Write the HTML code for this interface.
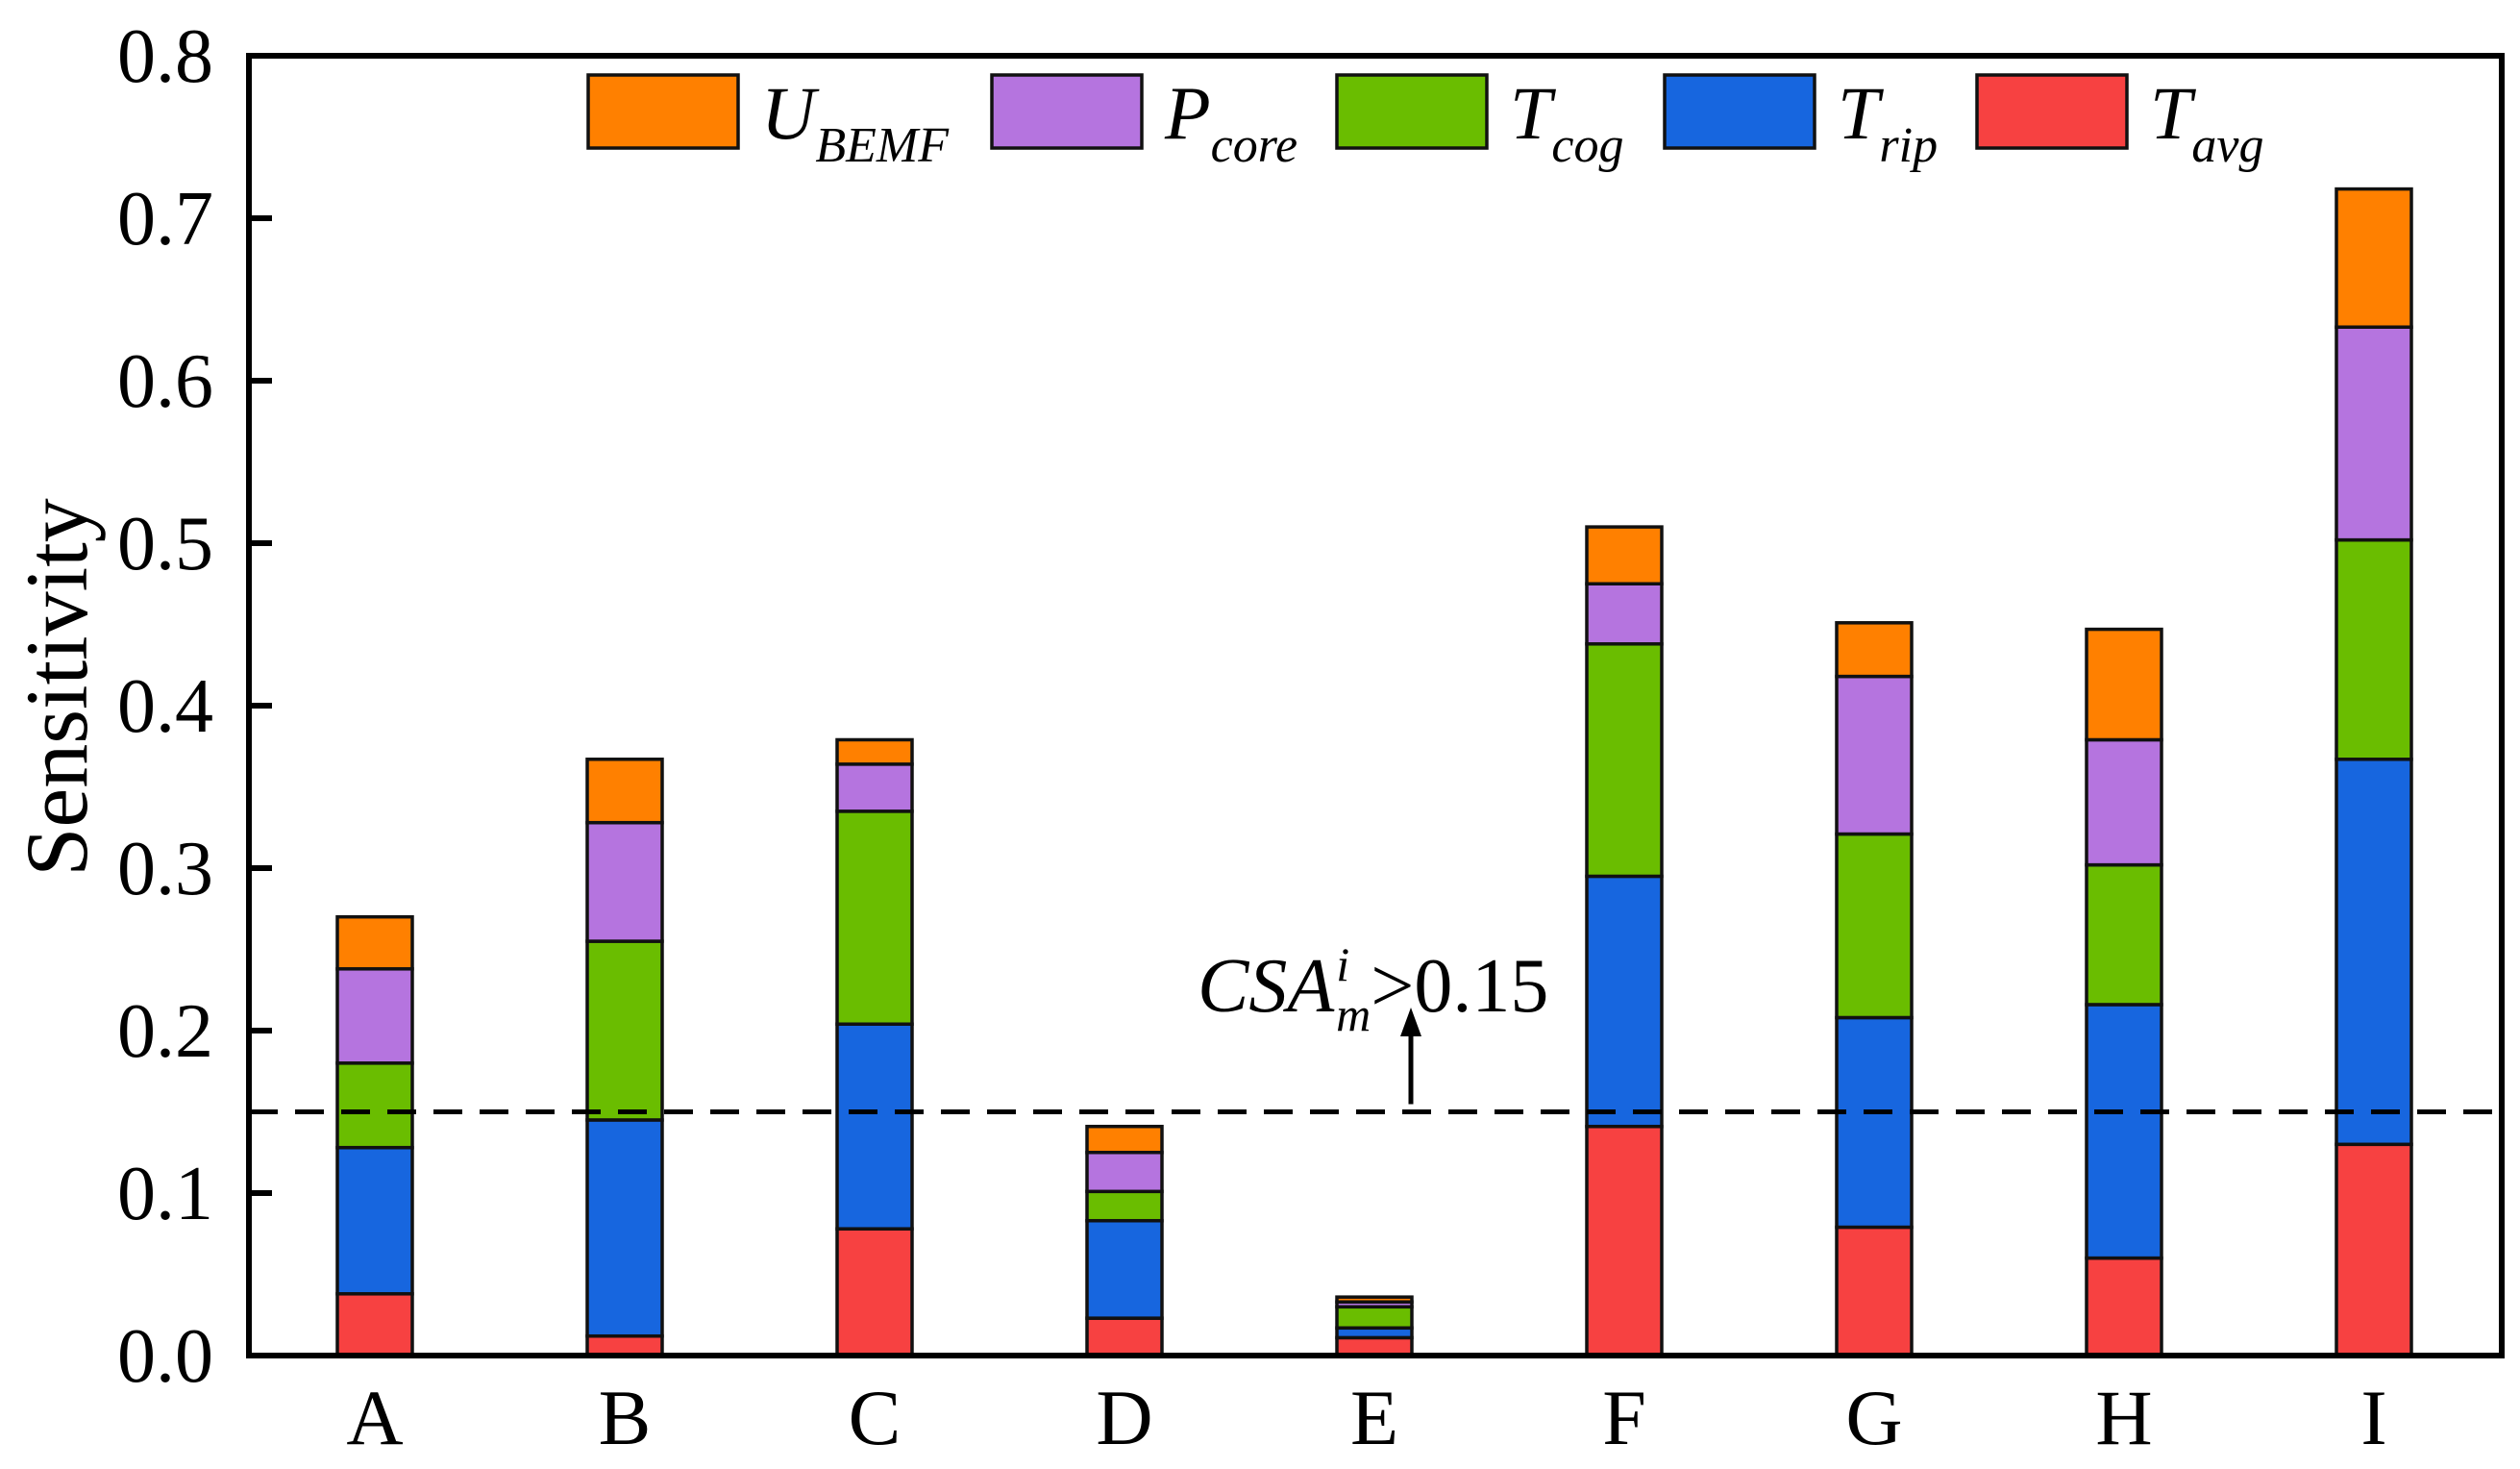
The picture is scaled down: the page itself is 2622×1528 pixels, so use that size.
<!DOCTYPE html>
<html><head><meta charset="utf-8"><style>
html,body{margin:0;padding:0;background:#fff;width:2622px;height:1528px;overflow:hidden}
text{font-family:"Liberation Serif",serif;fill:#000}
</style></head><body>
<svg id="chart" width="2622" height="1528" viewBox="0 0 2622 1528" xmlns="http://www.w3.org/2000/svg"></svg>
<script>
const categories=["A","B","C","D","E","F","G","H","I"];
const seriesNames=["Tavg","Trip","Tcog","Pcore","UBEMF"];
const tavg=[0.038,0.012,0.078,0.023,0.011,0.141,0.079,0.060,0.130];
const trip=[0.090,0.133,0.126,0.060,0.006,0.154,0.129,0.156,0.237];
const tcog=[0.052,0.110,0.131,0.018,0.013,0.143,0.113,0.086,0.135];
const pcore=[0.058,0.073,0.029,0.024,0.003,0.037,0.097,0.077,0.131];
const ubemf=[0.032,0.039,0.015,0.016,0.003,0.035,0.033,0.068,0.085];
const yTicks=["0.0","0.1","0.2","0.3","0.4","0.5","0.6","0.7","0.8"];
const threshold=0.15;

const svg=document.getElementById('chart');
const NS="http://www.w3.org/2000/svg";
const L=259,R=2603,T=58,B=1410,yMax=0.8;
const colors=["#F74141","#1766DF","#6ABD00","#B574DF","#FF8000"];
const series=[tavg,trip,tcog,pcore,ubemf];
function y(v){return B-(v/yMax)*(B-T);}
function x(i){return 390+i*260;}
const bw=78;
function el(tag,attrs,parent){const e=document.createElementNS(NS,tag);for(const k in attrs)e.setAttribute(k,attrs[k]);(parent||svg).appendChild(e);return e;}

categories.forEach((c,i)=>{
  let base=0;
  series.forEach((s,k)=>{
    const r=el('rect',{x:x(i)-bw/2,y:y(base+s[i]),width:bw,height:y(base)-y(base+s[i]),fill:colors[k],stroke:"#111","stroke-width":3.5});
    
    
    base+=s[i];
  });
  const t=el('text',{x:x(i),y:1502,'font-size':82,'text-anchor':'middle'});
  t.textContent=c;
  
  
});

const dl=el('line',{x1:L,x2:R,y1:y(threshold),y2:y(threshold),stroke:"#000","stroke-width":5,"stroke-dasharray":"30 18"});


const ar=el('line',{x1:1468,x2:1468,y1:y(threshold)-8,y2:1072,stroke:"#000","stroke-width":5});


const ah=el('polygon',{points:"1468,1048 1457,1078 1479,1078",fill:"#000"});


const at=el('text',{x:1246,y:1052,'font-size':80});


at.innerHTML='<tspan font-style="italic">CSA</tspan><tspan font-style="italic" font-size="50" dx="2" dy="-32">i</tspan><tspan font-style="italic" font-size="50" dx="-14" dy="52">m</tspan><tspan dy="-20">&gt;0.15</tspan>';

const fr=el('rect',{x:L,y:T,width:R-L,height:B-T,fill:"none",stroke:"#000","stroke-width":6});



yTicks.forEach((lab,i)=>{
  const v=parseFloat(lab);
  const tk=el('line',{x1:L,x2:L+24,y1:y(v),y2:y(v),stroke:"#000","stroke-width":6});
  
  
  const t=el('text',{x:222,y:y(v)+27,'font-size':80,'text-anchor':'end'});
  t.textContent=lab;
  
  
});
const yt=el('text',{x:0,y:0,'font-size':92,'text-anchor':'middle',transform:'translate(90,715) rotate(-90)'});
yt.textContent="Sensitivity";



const legX=[612,1032,1391,1732,2057];
const legMain=["U","P","T","T","T"];
const legSub=["BEMF","core","cog","rip","avg"];
const order=[4,3,2,1,0];
order.forEach((k,j)=>{
  const g=el('g',{});
  
  
  el('rect',{x:legX[j],y:78,width:156,height:76,fill:colors[k],stroke:"#111","stroke-width":3.5},g);
  const t=el('text',{x:legX[j]+180,y:144,'font-size':78,'font-style':'italic'},g);
  t.innerHTML=legMain[j]+'<tspan font-size="52" dy="24">'+legSub[j]+'</tspan>';
});
</script>
</body></html>
